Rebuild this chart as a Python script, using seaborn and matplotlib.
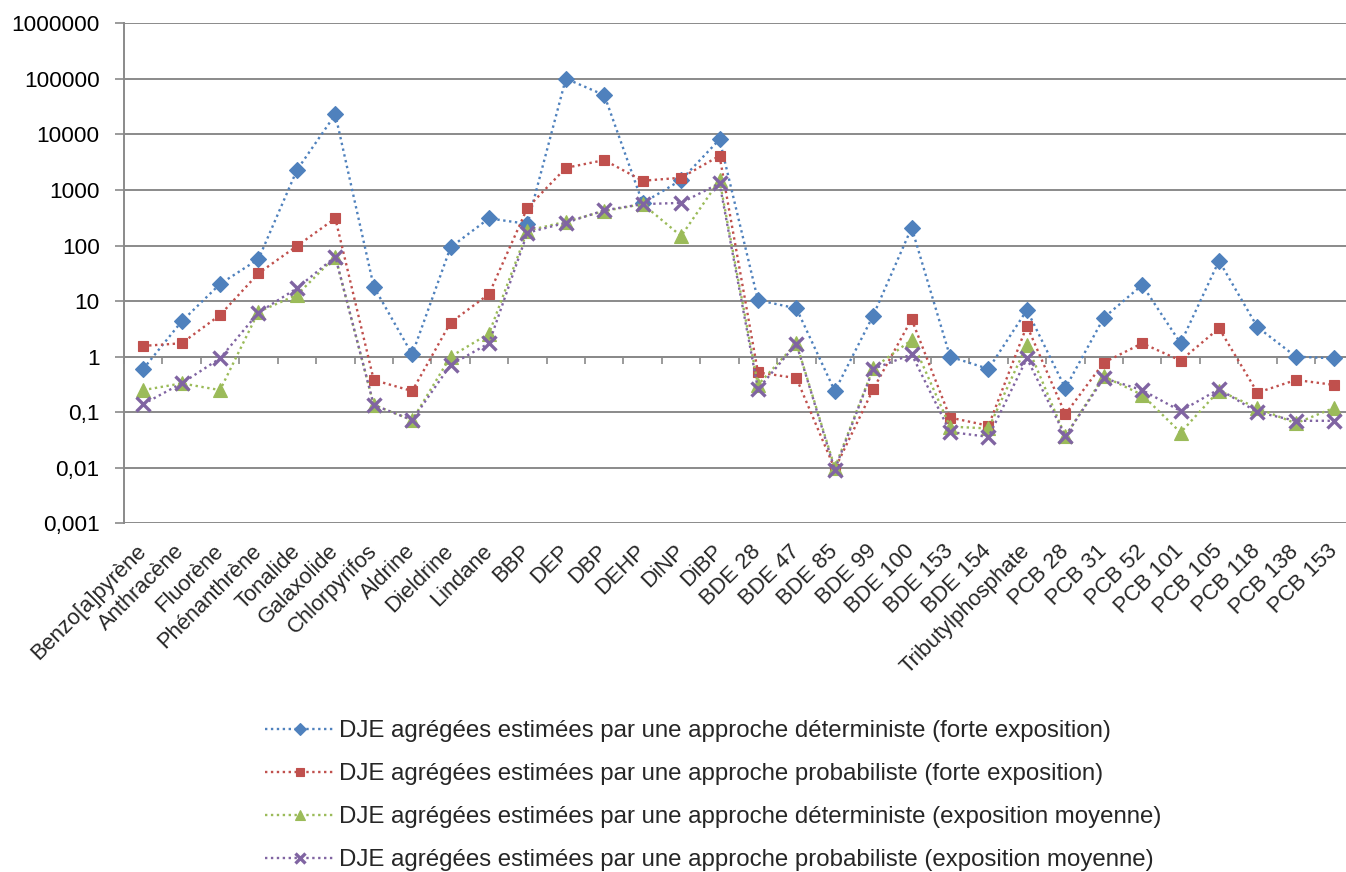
import matplotlib
matplotlib.use("Agg")
import matplotlib.pyplot as plt
import matplotlib.ticker as mticker
import seaborn as sns
import numpy as np
import pandas as pd

categories = ["Benzo[a]pyrène", "Anthracène", "Fluorène", "Phénanthrène", "Tonalide",
              "Galaxolide", "Chlorpyrifos", "Aldrine", "Dieldrine", "Lindane", "BBP",
              "DEP", "DBP", "DEHP", "DiNP", "DiBP", "BDE 28", "BDE 47", "BDE 85",
              "BDE 99", "BDE 100", "BDE 153", "BDE 154", "Tributylphosphate",
              "PCB 28", "PCB 31", "PCB 52", "PCB 101", "PCB 105", "PCB 118",
              "PCB 138", "PCB 153"]

det_forte = [0.60, 4.3, 20.3, 57, 2280, 22900, 18.2, 1.1, 93, 308, 245,
             101000, 51000, 580, 1510, 8130, 10.4, 7.4, 0.24, 5.5, 209,
             1.0, 0.60, 6.9, 0.27, 5.0, 19.5, 1.74, 53, 3.4, 1.0, 0.93]
prob_forte = [1.56, 1.74, 5.6, 31.6, 98, 308, 0.38, 0.24, 4.1, 13.4, 478,
              2500, 3450, 1465, 1660, 4120, 0.52, 0.41, 0.0095, 0.26, 4.7,
              0.08, 0.057, 3.6, 0.092, 0.78, 1.74, 0.85, 3.24, 0.225, 0.38, 0.31]
det_moy = [0.25, 0.33, 0.25, 6.4, 12.9, 63, 0.135, 0.072, 1.0, 2.6, 185,
           268, 418, 557, 148, 1500, 0.31, 1.74, 0.010, 0.62, 2.0,
           0.055, 0.051, 1.62, 0.037, 0.44, 0.205, 0.043, 0.245, 0.118, 0.063, 0.12]
prob_moy = [0.14, 0.33, 0.93, 6.2, 17, 63, 0.135, 0.072, 0.71, 1.74, 170,
            257, 430, 557, 585, 1320, 0.26, 1.7, 0.0092, 0.60, 1.1,
            0.044, 0.036, 0.93, 0.037, 0.41, 0.25, 0.105, 0.26, 0.10, 0.07, 0.07]

series_labels = [
    "DJE agrégées estimées par une approche déterministe (forte exposition)",
    "DJE agrégées estimées par une approche probabiliste (forte exposition)",
    "DJE agrégées estimées par une approche déterministe (exposition moyenne)",
    "DJE agrégées estimées par une approche probabiliste (exposition moyenne)",
]
ytick_values = [1e6, 1e5, 1e4, 1e3, 1e2, 10, 1, 0.1, 0.01, 0.001]
ytick_labels = ["1000000", "100000", "10000", "1000", "100", "10", "1", "0,1", "0,01", "0,001"]

colors = ["#4F81BD", "#C0504D", "#9BBB59", "#8064A2"]
markers = ["D", "s", "^", "x"]
msizes = [8, 7, 10, 10]

sns.set_theme(style="white")
plt.rcParams['font.family'] = ['Liberation Sans', 'DejaVu Sans']
plt.rcParams['font.size'] = 16

fig = plt.figure(figsize=(13.46, 8.72), dpi=100)
ax = fig.add_axes([124/1346, 1 - 523.3/872, (1353.5-124)/1346, 500/872])

x = np.arange(len(categories))
all_series = [det_forte, prob_forte, det_moy, prob_moy]
for vals, lab, c, m, ms in zip(all_series, series_labels, colors, markers, msizes):
    df = pd.DataFrame({"x": x, "y": vals})
    mew = 2.4 if m == "x" else 0.8
    sns.lineplot(data=df, x="x", y="y", ax=ax, color=c, marker=m, markersize=ms,
                 markeredgecolor=c, markeredgewidth=mew, markerfacecolor=c,
                 linestyle=(0, (1, 1.5)), linewidth=1.7, label=lab, zorder=3)

ax.set_yscale("log")
ax.set_ylim(0.001, 1e6)
ax.set_xlim(-0.5, len(categories) - 0.5)
ax.set_yticks(ytick_values)
ax.set_yticklabels(ytick_labels)
ax.yaxis.set_minor_locator(mticker.NullLocator())
ax.grid(axis="y", color="#8a8a8a", linewidth=1.4)
ax.set_axisbelow(True)
ax.set_xlabel("")
ax.set_ylabel("")

for s in ["top", "right"]:
    ax.spines[s].set_visible(False)
ax.spines["left"].set_color("#8a8a8a")
ax.spines["left"].set_linewidth(1.4)
ax.spines["bottom"].set_position(("data", 1))
ax.spines["bottom"].set_color("#8a8a8a")
ax.spines["bottom"].set_linewidth(1.4)

ax.tick_params(axis="y", which="major", left=True, length=6.5, width=1.2, color="#8a8a8a",
               pad=11, labelsize=16.2, labelcolor="black")
ax.set_xticks(x)
ax.set_xticklabels([])
ax.tick_params(axis="x", which="major", length=0)
ax.set_xticks(np.arange(len(categories) + 1) - 0.5, minor=True)
ax.tick_params(axis="x", which="minor", bottom=True, length=5, width=1.2, color="#8a8a8a",
               direction="out")

sec = ax.secondary_xaxis(0)
sec.set_xticks(x)
sec.set_xticklabels(categories, rotation=45, ha="right", va="center", rotation_mode="anchor")
sec.tick_params(length=0, pad=18, labelsize=15.8)
sec.spines["bottom"].set_visible(False)

handles, labels = ax.get_legend_handles_labels()
ax.get_legend().remove()
fig.legend(handles, labels, loc="center", bbox_to_anchor=(0.530, 0.0875), frameon=False,
           ncol=1, fontsize=17.3, handlelength=2.9, handletextpad=0.2, labelspacing=0.87,
           numpoints=1, markerscale=0.75)

fig.savefig("out.png", dpi=100)
